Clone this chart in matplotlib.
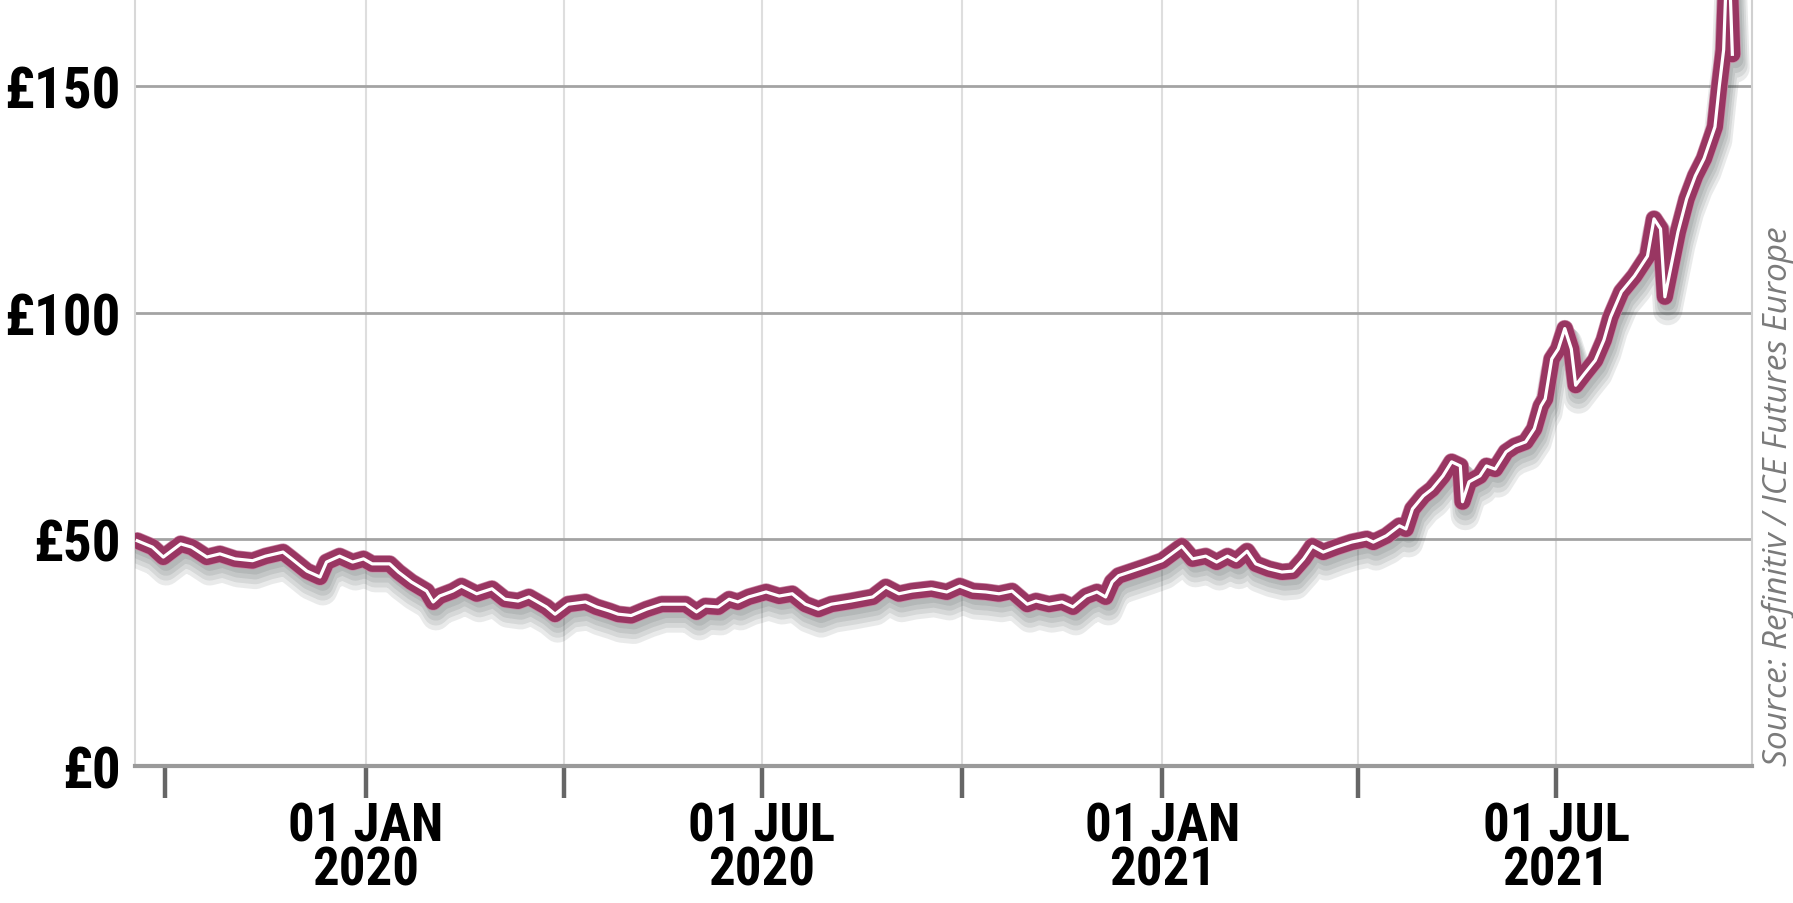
import matplotlib
matplotlib.use('Agg')
import matplotlib.pyplot as plt
import matplotlib.patheffects as pe
import pandas as pd

# wholesale price, roughly weekly readings
dates = [
    "2019-09-18", "2019-09-25", "2019-09-30", "2019-10-08", "2019-10-13", "2019-10-20",
    "2019-10-26", "2019-11-02", "2019-11-10", "2019-11-16", "2019-11-24", "2019-11-28",
    "2019-12-05", "2019-12-11", "2019-12-14", "2019-12-20", "2019-12-26", "2019-12-31",
    "2020-01-04", "2020-01-12", "2020-01-16", "2020-01-22", "2020-01-29", "2020-02-01",
    "2020-02-04", "2020-02-10", "2020-02-14", "2020-02-21", "2020-02-28", "2020-03-05",
    "2020-03-11", "2020-03-16", "2020-03-24", "2020-03-28", "2020-04-03", "2020-04-11",
    "2020-04-16", "2020-04-22", "2020-04-26",
    "2020-05-02", "2020-05-09", "2020-05-16", "2020-05-27", "2020-06-01", "2020-06-05",
    "2020-06-11", "2020-06-16", "2020-06-20", "2020-06-25", "2020-07-03", "2020-07-09",
    "2020-07-15", "2020-07-21", "2020-07-27", "2020-08-02", "2020-08-11", "2020-08-21",
    "2020-08-27", "2020-09-02", "2020-09-08", "2020-09-17", "2020-09-24", "2020-09-30",
    "2020-10-06", "2020-10-12", "2020-10-18", "2020-10-24", "2020-10-31", "2020-11-04",
    "2020-11-10", "2020-11-16", "2020-11-21", "2020-11-27", "2020-12-02", "2020-12-06",
    "2020-12-09", "2020-12-12",
    "2020-12-17", "2020-12-25", "2021-01-01", "2021-01-10", "2021-01-15", "2021-01-21",
    "2021-01-26", "2021-01-31", "2021-02-04", "2021-02-09", "2021-02-13", "2021-02-19",
    "2021-02-25", "2021-03-02", "2021-03-07", "2021-03-11", "2021-03-16", "2021-03-22",
    "2021-03-29", "2021-04-05", "2021-04-08", "2021-04-14", "2021-04-20", "2021-04-23",
    "2021-04-26", "2021-05-01", "2021-05-05", "2021-05-10", "2021-05-14", "2021-05-18",
    "2021-05-19", "2021-05-22", "2021-05-27", "2021-05-30", "2021-06-03", "2021-06-08",
    "2021-06-12", "2021-06-17", "2021-06-21", "2021-06-24", "2021-06-26", "2021-06-29",
    "2021-07-02", "2021-07-05", "2021-07-08", "2021-07-10", "2021-07-14", "2021-07-19",
    "2021-07-23", "2021-07-26", "2021-07-31", "2021-08-06", "2021-08-12", "2021-08-15",
    "2021-08-18", "2021-08-20", "2021-08-26", "2021-08-30", "2021-09-03", "2021-09-07",
    "2021-09-12", "2021-09-14", "2021-09-16", "2021-09-18", "2021-09-20",
]
price = [
    49.7, 48.3, 46.1, 49.0, 48.3, 46.1,
    46.8, 45.7, 45.3, 46.3, 47.2, 45.7,
    43.0, 41.7, 45.0, 46.3, 45.0, 45.7,
    44.6, 44.6, 42.8, 40.6, 38.6, 36.2,
    37.5, 38.6, 39.7, 38.0, 39.1, 36.8,
    36.4, 37.3, 35.1, 33.5, 35.7, 36.2,
    35.1, 34.2, 33.5,
    33.2, 34.6, 35.7, 35.7, 34.0, 35.3,
    35.1, 36.8, 36.2, 37.3, 38.4, 37.5,
    38.0, 35.7, 34.6, 35.7, 36.4, 37.3,
    39.5, 38.0, 38.6, 39.1, 38.4, 39.7,
    38.6, 38.4, 38.0, 38.6, 35.7, 36.4,
    35.7, 36.2, 35.1, 37.5, 38.4, 37.3,
    40.6, 42.0,
    42.8, 44.1, 45.3, 48.5, 45.7, 46.3,
    45.0, 46.3, 45.3, 47.4, 44.6, 43.5,
    42.8, 43.0, 45.7, 48.5, 47.2, 48.3,
    49.4, 50.1, 49.4, 50.8, 53.0, 52.3,
    56.7, 59.6, 61.1, 64.0, 67.1, 66.2,
    58.3, 62.7, 64.0, 66.2, 65.5, 69.3,
    70.6, 71.5, 74.4, 79.4, 81.0, 89.8,
    92.0, 96.5, 92.0, 84.0, 86.5, 89.5,
    94.0, 99.0, 104.6, 108.1, 112.5, 120.7,
    118.5, 103.5, 117.8, 125.1, 130.2, 134.0,
    141.0, 150.0, 158.0, 185.0, 157.0,
]

tick_dates = ["2019-10-01", "2020-01-01", "2020-04-01", "2020-07-01",
              "2020-10-01", "2021-01-01", "2021-04-01", "2021-07-01"]
tick_labels = ["", "01 JAN\n2020", "", "01 JUL\n2020",
               "", "01 JAN\n2021", "", "01 JUL\n2021"]
y_ticks = [0, 50, 100, 150]
y_labels = ["£0", "£50", "£100", "£150"]

bold = ["Roboto Condensed", "Roboto", "DejaVu Sans"]

fig = plt.figure(figsize=(17.93, 9.04), dpi=100)
ax = fig.add_axes([0.0753, 0.1515, 0.9018, 0.8485])

x = pd.to_datetime(dates)
ticks = pd.to_datetime(tick_dates)

ax.set_xlim(pd.Timestamp("2019-09-17"), pd.Timestamp("2021-09-29"))
ax.set_ylim(0, 169.2)

# grid
for t in ticks[1:]:
    ax.axvline(t, color="#dedede", lw=1.5, zorder=0)
for v in y_ticks[1:]:
    ax.axhline(v, color="#a3a3a3", lw=2, zorder=1)

# soft drop shadow under the price line
shadow = [pe.SimpleLineShadow(offset=(2, -4 - 2 * i), shadow_color="#2f3a3a",
                              alpha=0.1, linewidth=12 + 3 * i) for i in range(4)]
ax.plot(x, price, color="#993662", lw=11.5, solid_joinstyle="round",
        solid_capstyle="round", zorder=3,
        path_effects=shadow + [pe.Stroke(linewidth=12.5, foreground="#c98aa6"), pe.Normal()])
ax.plot(x, price, color="white", lw=2.3, solid_joinstyle="round", zorder=4)

# axes styling
ax.spines["top"].set_visible(False)
ax.spines["left"].set_color("#d8d8d8")
ax.spines["left"].set_linewidth(1.5)
ax.spines["right"].set_color("#d0d0d0")
ax.spines["right"].set_linewidth(1.5)
ax.spines["bottom"].set_color("#9a9a9a")
ax.spines["bottom"].set_linewidth(3)

ax.set_xticks(ticks)
ax.set_xticklabels(tick_labels)
ax.set_yticks(y_ticks)
ax.set_yticklabels(y_labels)
ax.tick_params(axis="x", length=23, width=3.2, color="#666666", pad=2, labelsize=38)
ax.tick_params(axis="y", length=0, pad=10, labelsize=41)
for lbl in ax.get_xticklabels():
    lbl.set_family(bold)
    lbl.set_fontweight("bold")
    lbl.set_linespacing(0.82)
for lbl in ax.get_yticklabels():
    lbl.set_family(bold)
    lbl.set_fontweight("bold")

fig.text(0.9916, 0.1527, "Source: Refinitiv / ICE Futures Europe", rotation=90,
         ha="center", va="bottom", fontsize=24, style="italic", color="#7a7a7a",
         family=["Open Sans", "DejaVu Sans"])

fig.savefig("out.png", dpi=100)
